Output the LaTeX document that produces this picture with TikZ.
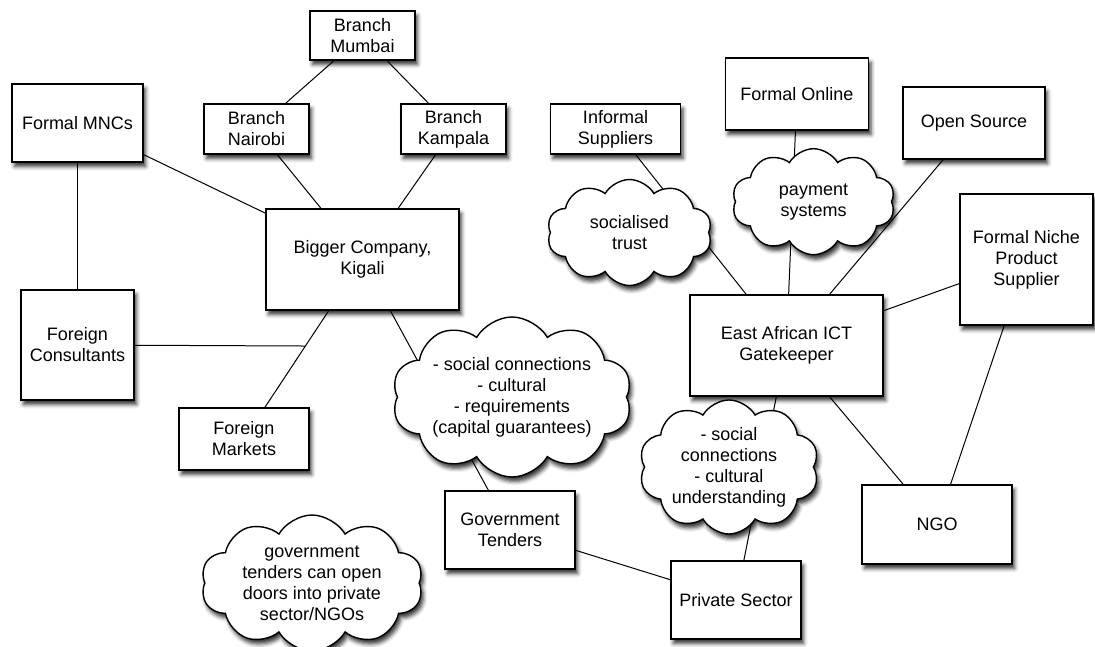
\documentclass[tikz,border=0pt]{standalone}
\usepackage{fontspec}
\setmainfont{Liberation Sans}
\usetikzlibrary{shapes.symbols,shadows.blur,backgrounds,calc}
\begin{document}
\begin{tikzpicture}[x=1pt,y=-1pt,
  font=\fontsize{18}{21}\selectfont,
  shad/.style={blur shadow={shadow xshift=2.5pt,shadow yshift=-4.5pt,shadow blur radius=4pt,shadow opacity=80}},
  box/.style={draw,line width=1.4pt,fill=white,rectangle,align=center,inner sep=0pt,shad},
  bub/.style={draw,line width=1.4pt,fill=white,cloud,cloud puffs=10,cloud puff arc=120,cloud ignores aspect,inner sep=0pt,shad},
  txt/.style={align=center,inner sep=0pt},
  link/.style={line width=1pt}]
\useasboundingbox (0,0) rectangle (1095,647);

% boxes
\node[box,minimum width=105pt,minimum height=49pt] (mum) at (362.5,35.5) {Branch\\Mumbai};
\node[box,minimum width=105pt,minimum height=50pt] (nai) at (256.5,129) {Branch\\Nairobi};
\node[box,minimum width=105pt,minimum height=50pt] (kam) at (453.5,129) {Branch\\Kampala};
\node[box,minimum width=131pt,minimum height=78pt] (mnc) at (77.5,123) {Formal MNCs};
\node[box,minimum width=193pt,minimum height=101pt] (big) at (362.5,259.5) {Bigger Company,\\Kigali};
\node[box,minimum width=113pt,minimum height=110pt] (fc) at (77.5,345) {Foreign\\Consultants};
\node[box,minimum width=130pt,minimum height=62pt] (fm) at (244,439) {Foreign\\Markets};
\node[box,minimum width=130pt,minimum height=78pt] (gt) at (510,530) {Government\\Tenders};
\node[box,minimum width=130pt,minimum height=78pt] (ps) at (736,600) {Private Sector};
\node[box,minimum width=150pt,minimum height=79pt] (ngo) at (937,524.5) {NGO};
\node[box,minimum width=193pt,minimum height=101pt] (ict) at (786.5,345.5) {East African ICT\\Gatekeeper};
\node[box,minimum width=133pt,minimum height=131pt] (nic) at (1026.5,259.5) {Formal Niche\\Product\\Supplier};
\node[box,minimum width=142pt,minimum height=72pt] (os) at (974,123) {Open Source};
\node[box,minimum width=143pt,minimum height=72pt] (fo) at (797,94) {Formal Online};
\node[box,minimum width=130pt,minimum height=50pt] (inf) at (615.5,129) {Informal\\Suppliers};

% clouds
\node[bub,minimum width=165pt,minimum height=106pt,label={[txt]center:socialised\\trust}] (trust) at (629.5,232.5) {};
\node[bub,minimum width=163pt,minimum height=106pt,label={[txt]center:payment\\systems}] (pay) at (813.5,201.7) {};
\node[bub,minimum width=240pt,minimum height=160pt,label={[txt]center:- social connections\\- cultural\\- requirements\\(capital guarantees)}] (bc) at (512,397) {};
\node[bub,minimum width=180pt,minimum height=134pt,label={[txt]center:- social\\connections\\- cultural\\understanding}] (sc) at (729,467) {};
\node[bub,minimum width=222pt,minimum height=136pt,label={[txt]center:government\\tenders can open\\doors into private\\sector/NGOs}] (gc) at (312,583) {};

\coordinate (j) at ($(big)!0.482!(fm)$);

\begin{scope}[on background layer]
\draw[link] (mum) -- (nai);
\draw[link] (mum) -- (kam);
\draw[link] (nai) -- (big);
\draw[link] (kam) -- (big);
\draw[link] (mnc) -- (big);
\draw[link] (mnc) -- (fc);
\draw[link] (big) -- (fm);
\draw[link] (fc) -- (j);
\draw[link] (big) -- (gt);
\draw[link] (gt) -- (ps);
\draw[link] (ict) -- (ps);
\draw[link] (ict) -- (ngo);
\draw[link] (ict) -- (nic);
\draw[link] (ngo) -- (nic);
\draw[link] (ict) -- (os);
\draw[link] (ict) -- (fo);
\draw[link] (ict) -- (inf);
\end{scope}
\end{tikzpicture}
\end{document}
